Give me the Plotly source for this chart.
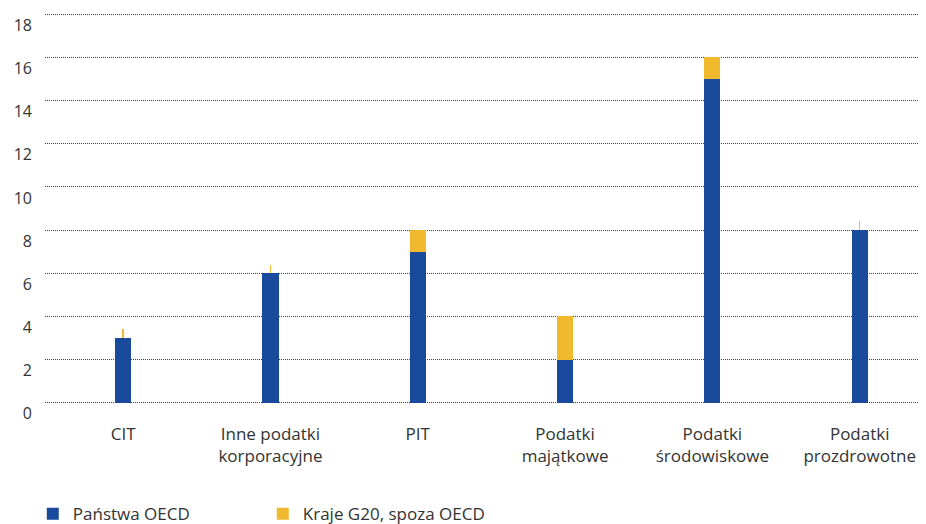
import plotly.graph_objects as go

categories = ["CIT", "Inne podatki<br>korporacyjne", "PIT", "Podatki<br>majątkowe",
              "Podatki<br>środowiskowe", "Podatki<br>prozdrowotne"]
oecd = [3, 6, 7, 2, 15, 8]
g20 = [0, 0, 1, 2, 1, 0]
g20_marker_line = [0.4, 0.4, 0, 0, 0, 0.4]
y_ticks = list(range(0, 19, 2))

BLUE = "#1a4a9b"
YELLOW = "#f0b92e"
FONT = "Open Sans, sans-serif"
TXT = "#333333"

fig = go.Figure()
fig.add_trace(go.Bar(x=categories, y=oecd, name="Państwa OECD",
                     marker=dict(color=BLUE, line=dict(width=0)), width=0.11))
fig.add_trace(go.Bar(x=categories, y=g20, name="Kraje G20, spoza OECD",
                     marker=dict(color=YELLOW, line=dict(width=0)), width=0.11,
                     error_y=dict(type="data", symmetric=False, array=g20_marker_line,
                                  arrayminus=[0]*6, color=YELLOW, thickness=1.5, width=0)))

fig.update_layout(
    barmode="stack",
    width=918, height=516,
    margin=dict(l=37, r=0, t=4, b=119, autoexpand=False),
    paper_bgcolor="white", plot_bgcolor="white",
    font=dict(family=FONT, size=17, color=TXT),
    xaxis=dict(range=[-0.53, 5.45], showgrid=False, showline=False, ticks="",
               automargin=False, ticklabelstandoff=17,
               tickfont=dict(size=17, color=TXT)),
    yaxis=dict(range=[-0.1, 18.1], tickvals=y_ticks, showgrid=True,
               gridcolor="#444444", griddash="1px,1px", gridwidth=1,
               zeroline=False, showline=False, ticks="", automargin=False,
               ticklabelshift=11, ticklabelstandoff=12,
               tickfont=dict(size=16, color=TXT)),
    legend=dict(orientation="h", xref="container", yref="container",
                x=0.027, xanchor="left", y=0.019, yanchor="middle",
                entrywidth=185, font=dict(size=17, color=TXT),
                traceorder="normal"),
    showlegend=True,
)

fig.write_html("out.html")
